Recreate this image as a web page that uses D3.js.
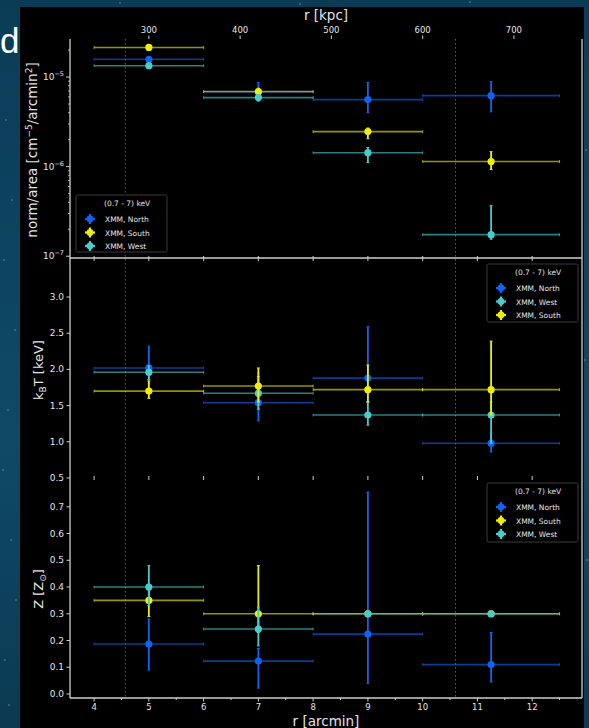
<!DOCTYPE html>
<html>
<head>
<meta charset="utf-8">
<script src="https://cdn.jsdelivr.net/npm/d3@7"></script>
<style>
  html, body { margin: 0; padding: 0; overflow: hidden; background: #0b3a52; }
  svg { display: block; }
</style>
</head>
<body>
<svg id="fig" width="589" height="728"></svg>
<script>
// Radial bins (arcmin): centre and half-width
const binCentre = [5, 7, 9, 11.25];
const binHalfWidth = [1, 1, 1, 1.25];

const arcminTicks = [4, 5, 6, 7, 8, 9, 10, 11, 12];
const arcminMinorTicks = [4.5, 5.5, 6.5, 7.5, 8.5, 9.5, 10.5, 11.5, 12.5];
const kpcTicks = [300, 400, 500, 600, 700];
const kpcPerArcmin = 60;
const referenceRadii = [4.57, 10.6];   // dotted vertical guides (arcmin)

// Normalisation per area [cm^-5 / arcmin^2]
const normNorth   = [1.58e-5, 6.8e-6, 5.6e-6, 6.2e-6];
const normNorthLo = [1.50e-5, 5.8e-6, 4.0e-6, 4.1e-6];
const normNorthHi = [1.66e-5, 8.7e-6, 8.7e-6, 8.9e-6];
const normSouth   = [2.14e-5, 6.9e-6, 2.46e-6, 1.14e-6];
const normSouthLo = [2.05e-5, 6.4e-6, 2.05e-6, 0.93e-6];
const normSouthHi = [2.23e-5, 7.5e-6, 2.70e-6, 1.47e-6];
const normWest    = [1.34e-5, 5.9e-6, 1.43e-6, 1.74e-7];
const normWestLo  = [1.28e-5, 5.4e-6, 1.11e-6, 1.55e-7];
const normWestHi  = [1.40e-5, 6.4e-6, 1.63e-6, 3.67e-7];

// Temperature kT [keV]
const ktNorth   = [2.02, 1.54, 1.88, 0.98];
const ktNorthLo = [1.80, 1.29, 1.55, 0.86];
const ktNorthHi = [2.32, 1.95, 2.59, 1.12];
const ktSouth   = [1.70, 1.77, 1.72, 1.72];
const ktSouthLo = [1.60, 1.55, 1.55, 1.37];
const ktSouthHi = [1.84, 2.02, 2.06, 2.39];
const ktWest    = [1.96, 1.67, 1.37, 1.37];
const ktWestLo  = [1.86, 1.45, 1.23, 0.98];
const ktWestHi  = [2.05, 1.90, 1.55, 1.55];

// Metallicity Z [Z_sun]
const zNorth   = [0.187, 0.123, 0.224, 0.110];
const zNorthLo = [0.090, 0.022, 0.040, 0.045];
const zNorthHi = [0.280, 0.170, 0.755, 0.230];
const zSouth   = [0.35, 0.30, 0.30, 0.30];
const zSouthLo = [0.29, 0.23, 0.30, 0.30];
const zSouthHi = [0.41, 0.48, 0.30, 0.30];
const zWest    = [0.40, 0.243, 0.30, 0.30];
const zWestLo  = [0.33, 0.180, 0.30, 0.30];
const zWestHi  = [0.48, 0.325, 0.30, 0.30];

const ktTicks = [0.5, 1.0, 1.5, 2.0, 2.5, 3.0];
const zTicks = [0.0, 0.1, 0.2, 0.3, 0.4, 0.5, 0.6, 0.7];
const normDecades = [-5, -6, -7];

const bandLabel = "(0.7 - 7) keV";
const COLORS = { North: "#0f63f2", South: "#eeee06", West: "#48cccc" };
const NAMES = { North: "XMM, North", South: "XMM, South", West: "XMM, West" };

const FONT = "DejaVu Sans, sans-serif";
const TXT = "#e4e4e4";
const SPINE = "#cfcfcf";

const svg = d3.select("#fig");

// ---- slide background ----
const defs = svg.append("defs");
const bg = defs.append("linearGradient").attr("id", "bg").attr("x1", 0).attr("y1", 0).attr("x2", 0).attr("y2", 1);
bg.append("stop").attr("offset", "0%").attr("stop-color", "#0b3c55");
bg.append("stop").attr("offset", "60%").attr("stop-color", "#0e4a66");
bg.append("stop").attr("offset", "100%").attr("stop-color", "#0b3a52");
svg.append("rect").attr("width", 589).attr("height", 728).attr("fill", "url(#bg)");

// faint specks on the slide background
const specks = [[6,120],[12,200],[4,260],[15,330],[8,410],[3,470],[11,540],[16,600],[5,660],[9,705],[586,150],[585,360],[587,560],[120,3],[300,4],[470,2]];
svg.append("g").selectAll("circle").data(specks).join("circle")
  .attr("cx", d => d[0]).attr("cy", d => d[1]).attr("r", 0.9)
  .attr("fill", "#6fa9c4").attr("opacity", 0.5);

// slide title fragment
svg.append("text").attr("x", 0).attr("y", 53).attr("text-anchor", "start")
  .attr("font-family", "Liberation Sans, Arial, sans-serif").attr("font-size", 35)
  .attr("fill", "#ffffff").text("d");

// figure canvas
svg.append("rect").attr("x", 20).attr("y", 7).attr("width", 564).attr("height", 721).attr("fill", "#000");

// ---- scales ----
const x = d3.scaleLinear().domain([3.56, 12.91]).range([70, 582]);
const xKpc = d3.scaleLinear().domain(x.domain().map(d => d * kpcPerArcmin)).range(x.range());

const panels = [
  { key: "norm", y: d3.scaleLog().domain([Math.pow(10, -7.02), Math.pow(10, -4.575)]).range([258, 39]) },
  { key: "kt",   y: d3.scaleLinear().domain([0.486, 3.539]).range([479, 258]) },
  { key: "z",    y: d3.scaleLinear().domain([-0.015, 0.804]).range([698, 479]) }
];

const series = {
  norm: { North: [normNorth, normNorthLo, normNorthHi], South: [normSouth, normSouthLo, normSouthHi], West: [normWest, normWestLo, normWestHi] },
  kt:   { North: [ktNorth, ktNorthLo, ktNorthHi], South: [ktSouth, ktSouthLo, ktSouthHi], West: [ktWest, ktWestLo, ktWestHi] },
  z:    { North: [zNorth, zNorthLo, zNorthHi], South: [zSouth, zSouthLo, zSouthHi], West: [zWest, zWestLo, zWestHi] }
};
const drawOrder = { norm: ["North", "South", "West"], kt: ["North", "West", "South"], z: ["North", "South", "West"] };

const [xL, xR] = x.range();
const yTop = 39, yBot = 698;

// dotted reference radii across all panels
svg.append("g").selectAll("line").data(referenceRadii).join("line")
  .attr("x1", d => x(d)).attr("x2", d => x(d)).attr("y1", yTop).attr("y2", yBot)
  .attr("stroke", "#9a9a9a").attr("stroke-width", 0.8).attr("stroke-dasharray", "1.5,2.5").attr("opacity", 0.8);

// ---- error bars ----
function drawSeries(g, y, name, arrs) {
  const [v, lo, hi] = arrs;
  const col = COLORS[name];
  const rows = binCentre.map((c, i) => ({ c, h: binHalfWidth[i], v: v[i], lo: lo[i], hi: hi[i] }));
  const s = g.append("g");
  s.selectAll("line.xe").data(rows).join("line").attr("class", "xe")
    .attr("x1", d => x(d.c - d.h)).attr("x2", d => x(d.c + d.h))
    .attr("y1", d => y(d.v)).attr("y2", d => y(d.v))
    .attr("stroke", col).attr("stroke-width", 1.6).attr("stroke-opacity", 0.62);
  // x caps
  s.selectAll("line.xc").data(rows.flatMap(d => [{ xv: d.c - d.h, v: d.v }, { xv: d.c + d.h, v: d.v }])).join("line").attr("class", "xc")
    .attr("x1", d => x(d.xv)).attr("x2", d => x(d.xv))
    .attr("y1", d => y(d.v) - 1.5).attr("y2", d => y(d.v) + 1.5)
    .attr("stroke", col).attr("stroke-width", 1).attr("stroke-opacity", 0.62);
  const ye = rows.filter(d => d.hi > d.lo);
  s.selectAll("line.ye").data(ye).join("line").attr("class", "ye")
    .attr("x1", d => x(d.c)).attr("x2", d => x(d.c))
    .attr("y1", d => y(d.lo)).attr("y2", d => y(d.hi))
    .attr("stroke", col).attr("stroke-width", 1.8);
  s.selectAll("line.yc").data(ye.flatMap(d => [{ c: d.c, yv: d.lo }, { c: d.c, yv: d.hi }])).join("line").attr("class", "yc")
    .attr("x1", d => x(d.c) - 1.5).attr("x2", d => x(d.c) + 1.5)
    .attr("y1", d => y(d.yv)).attr("y2", d => y(d.yv))
    .attr("stroke", col).attr("stroke-width", 1);
  s.selectAll("circle").data(rows).join("circle")
    .attr("cx", d => x(d.c)).attr("cy", d => y(d.v)).attr("r", 3.6).attr("fill", col);
}

panels.forEach(p => {
  const g = svg.append("g");
  drawOrder[p.key].forEach(n => drawSeries(g, p.y, n, series[p.key][n]));
});

// ---- spines ----
const sp = svg.append("g").attr("stroke", SPINE).attr("stroke-width", 1.3);
sp.append("line").attr("x1", xL).attr("x2", xL).attr("y1", yTop).attr("y2", yBot);
sp.append("line").attr("x1", xR).attr("x2", xR).attr("y1", yTop).attr("y2", yBot);
sp.append("line").attr("x1", xL).attr("x2", xR).attr("y1", 258).attr("y2", 258);
sp.append("line").attr("x1", xL).attr("x2", xR).attr("y1", yBot).attr("y2", yBot);

// ---- x ticks ----
const xt = svg.append("g").attr("stroke", SPINE).attr("stroke-width", 1);
[[258, 3], [258, -2], [478, -2], [478, 2]].forEach(([yy, len]) => {
  xt.append("g").selectAll("line").data(arcminTicks).join("line")
    .attr("x1", d => x(d)).attr("x2", d => x(d)).attr("y1", yy).attr("y2", yy + len);
});
xt.append("g").selectAll("line").data(arcminTicks).join("line")
  .attr("x1", d => x(d)).attr("x2", d => x(d)).attr("y1", yBot).attr("y2", yBot + 3.5);
xt.append("g").selectAll("line").data(arcminMinorTicks).join("line")
  .attr("x1", d => x(d)).attr("x2", d => x(d)).attr("y1", yBot).attr("y2", yBot + 2);

// bottom axis labels
svg.append("g").selectAll("text").data(arcminTicks).join("text")
  .attr("x", d => x(d)).attr("y", 710).attr("text-anchor", "middle")
  .attr("font-family", FONT).attr("font-size", 8.5).attr("fill", TXT).text(d => d);
svg.append("text").attr("x", 326).attr("y", 726).attr("text-anchor", "middle")
  .attr("font-family", FONT).attr("font-size", 13.5).attr("fill", TXT).text("r [arcmin]");

// top (kpc) axis
svg.append("g").selectAll("line").data(kpcTicks).join("line")
  .attr("x1", d => xKpc(d)).attr("x2", d => xKpc(d)).attr("y1", yTop).attr("y2", yTop - 3.5)
  .attr("stroke", SPINE).attr("stroke-width", 1);
svg.append("g").selectAll("text").data(kpcTicks).join("text")
  .attr("x", d => xKpc(d)).attr("y", 32.5).attr("text-anchor", "middle")
  .attr("font-family", FONT).attr("font-size", 8.5).attr("fill", TXT).text(d => d);
svg.append("text").attr("x", 326).attr("y", 20).attr("text-anchor", "middle")
  .attr("font-family", FONT).attr("font-size", 13.5).attr("fill", TXT).text("r [kpc]");

// ---- y axes ----
const yN = panels[0].y, yK = panels[1].y, yZ = panels[2].y;
const ya = svg.append("g").attr("font-family", FONT).attr("font-size", 9).attr("fill", TXT);

// log axis: decades + minor ticks
const normMinor = [];
[-7, -6, -5].forEach(e => { for (let m = 2; m <= 9; m++) { const v = m * Math.pow(10, e); if (v < yN.domain()[1]) normMinor.push(v); } });
ya.append("g").selectAll("line").data(normMinor).join("line")
  .attr("x1", xL).attr("x2", xL - 2).attr("y1", d => yN(d)).attr("y2", d => yN(d))
  .attr("stroke", SPINE).attr("stroke-width", 0.8);
ya.append("g").selectAll("line").data(normDecades).join("line")
  .attr("x1", xL).attr("x2", xL - 4).attr("y1", d => yN(Math.pow(10, d))).attr("y2", d => yN(Math.pow(10, d)))
  .attr("stroke", SPINE).attr("stroke-width", 1);
const dec = ya.append("g").selectAll("text").data(normDecades).join("text")
  .attr("x", 64).attr("y", d => yN(Math.pow(10, d)) + 3).attr("text-anchor", "end");
dec.append("tspan").text("10");
dec.append("tspan").attr("dy", -4).attr("font-size", 6.5).text(d => "\u2212" + (-d));

[[yK, ktTicks], [yZ, zTicks]].forEach(([sc, ticks]) => {
  ya.append("g").selectAll("line").data(ticks).join("line")
    .attr("x1", xL).attr("x2", xL - 3.5).attr("y1", d => sc(d)).attr("y2", d => sc(d))
    .attr("stroke", SPINE).attr("stroke-width", 1);
  ya.append("g").selectAll("text").data(ticks).join("text")
    .attr("x", 64).attr("y", d => sc(d) + 3).attr("text-anchor", "end").text(d3.format(".1f"));
});

// axis titles
function yTitle(cx, cy, size, build) {
  const t = svg.append("text").attr("transform", `translate(${cx},${cy}) rotate(-90)`)
    .attr("text-anchor", "middle").attr("font-family", FONT).attr("font-size", size).attr("fill", TXT);
  build(t);
}
yTitle(37, 150, 13.5, t => {
  t.append("tspan").text("norm/area [cm");
  t.append("tspan").attr("dy", -5).attr("font-size", 9).text("\u22125");
  t.append("tspan").attr("dy", 5).text("/arcmin");
  t.append("tspan").attr("dy", -5).attr("font-size", 9).text("2");
  t.append("tspan").attr("dy", 5).text("]");
});
yTitle(43, 370, 13, t => {
  t.append("tspan").text("k");
  t.append("tspan").attr("dy", 3).attr("font-size", 9).text("B");
  t.append("tspan").attr("dy", -3).text("T [keV]");
});
yTitle(43, 589, 13, t => {
  t.append("tspan").text("Z [Z");
  t.append("tspan").attr("dy", 3).attr("font-size", 9).text("\u2299");
  t.append("tspan").attr("dy", -3).text("]");
});

// ---- legends ----
function legend(x0, y0, w, h, order) {
  const g = svg.append("g").attr("transform", `translate(${x0},${y0})`);
  g.append("rect").attr("width", w).attr("height", h).attr("fill", "#000")
    .attr("stroke", "#3a3a3a").attr("stroke-width", 1).attr("rx", 1.5);
  g.append("text").attr("x", 28).attr("y", 11).attr("font-family", FONT).attr("font-size", 7.5)
    .attr("fill", TXT).text(bandLabel);
  const rows = g.selectAll("g.row").data(order).join("g").attr("class", "row")
    .attr("transform", (d, i) => `translate(0,${24 + i * 13.5})`);
  rows.append("line").attr("x1", 9).attr("x2", 19).attr("y1", 0).attr("y2", 0)
    .attr("stroke", d => COLORS[d]).attr("stroke-width", 2.2);
  rows.append("line").attr("x1", 14).attr("x2", 14).attr("y1", -5).attr("y2", 5)
    .attr("stroke", d => COLORS[d]).attr("stroke-width", 2.2);
  rows.append("circle").attr("cx", 14).attr("cy", 0).attr("r", 3.4).attr("fill", d => COLORS[d]);
  rows.append("text").attr("x", 29).attr("y", 3).attr("font-family", FONT).attr("font-size", 7.5)
    .attr("fill", TXT).text(d => NAMES[d]);
}
legend(76, 195, 91, 57, ["North", "South", "West"]);
legend(487, 264, 91, 58, ["North", "West", "South"]);
legend(487, 483, 91, 59, ["North", "South", "West"]);
</script>
</body>
</html>
